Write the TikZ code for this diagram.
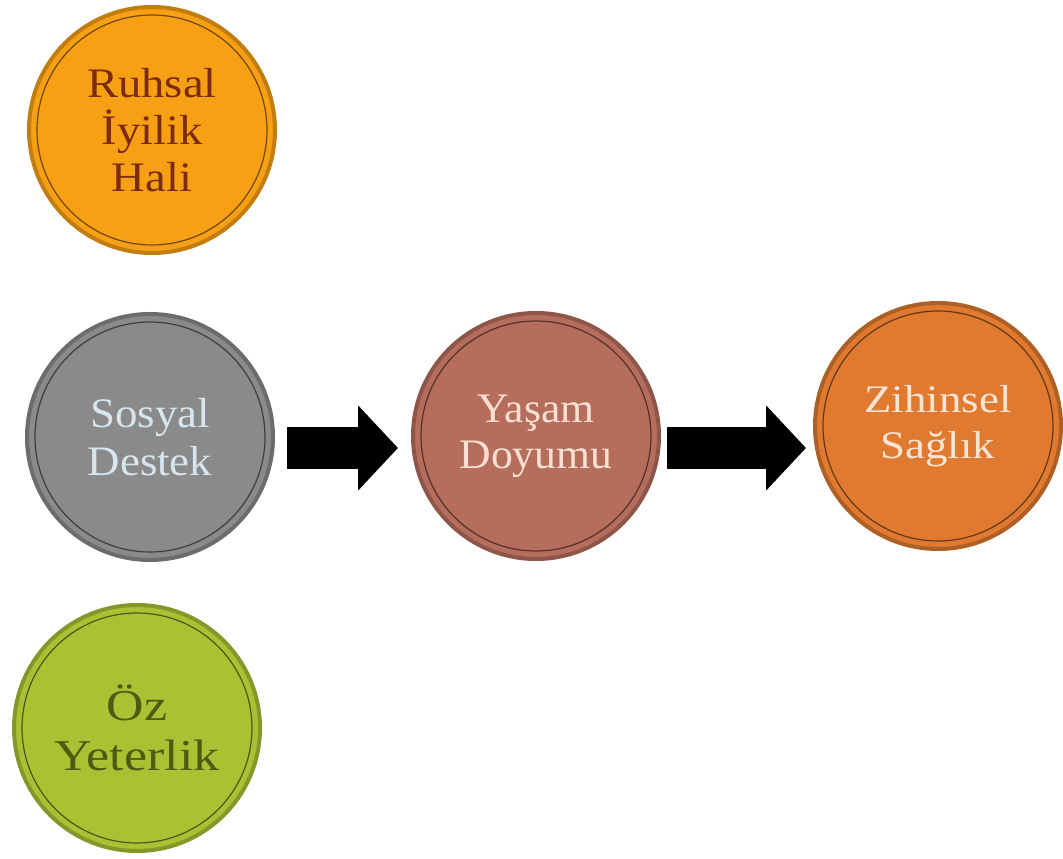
\documentclass[tikz,border=0pt]{standalone}
\usepackage{fontspec}
\setmainfont{Liberation Serif}
\usetikzlibrary{arrows.meta}
\definecolor{ruhsalfill}{HTML}{F8A013}
\definecolor{ruhsaltext}{HTML}{7B2C0E}
\definecolor{sosyalfill}{HTML}{8A8A8A}
\definecolor{sosyaltext}{HTML}{D7E5EF}
\definecolor{ozfill}{HTML}{A9C234}
\definecolor{oztext}{HTML}{4E5B12}
\definecolor{yasamfill}{HTML}{B66E5C}
\definecolor{yasamtext}{HTML}{F9DED2}
\definecolor{zihinfill}{HTML}{DF7A30}
\definecolor{zihintext}{HTML}{FCE4D2}
\newcommand{\bubblefont}[3]{\fontsize{#1}{#2}\selectfont\addfontfeature{FakeStretch=#3}}
\tikzset{
bubble/.style={circle, draw=#1!78!black, line width=4pt, fill=#1,
  minimum size=246pt, inner sep=0pt, align=center,
  path picture={\draw[black, opacity=0.55, line width=1.2pt]
    (path picture bounding box.center) circle (115pt);}},
bigarrow/.style={black, line width=42pt, -{Triangle[length=40pt,width=83pt]}}
}

\begin{document}
\begin{tikzpicture}[x=1pt,y=1pt]
\useasboundingbox (0,0) rectangle (1063,859);
% circles
\node (ruhsal) [bubble=ruhsalfill, text=ruhsaltext, font=\bubblefont{42}{47}{1.11}]
  at (152,729) {Ruhsal\\İyilik\\Hali};
\node (sosyal) [bubble=sosyalfill, text=sosyaltext, font=\bubblefont{42}{48}{1.07}]
  at (150,422) {Sosyal\\Destek};
\node (oz) [bubble=ozfill, text=oztext, font=\bubblefont{44}{50}{1.18}]
  at (137,131) {Öz\\Yeterlik};
\node (yasam) [bubble=yasamfill, text=yasamtext, font=\bubblefont{42}{46}{1.04}]
  at (536,423) {Yaşam\\Doyumu};
\node (zihin) [bubble=zihinfill, text=zihintext, font=\bubblefont{39}{46}{1.15}]
  at (938,433) {Zihinsel\\Sağlık};
% block arrows
\draw[bigarrow] ([xshift=12pt,yshift=-11pt]sosyal.east)
  -- ([xshift=-13pt,yshift=-11pt]sosyal.east -| yasam.west);
\draw[bigarrow] ([xshift=6pt,yshift=-12pt]yasam.east)
  -- ([xshift=-7pt,yshift=-12pt]yasam.east -| zihin.west);
\end{tikzpicture}
\end{document}
